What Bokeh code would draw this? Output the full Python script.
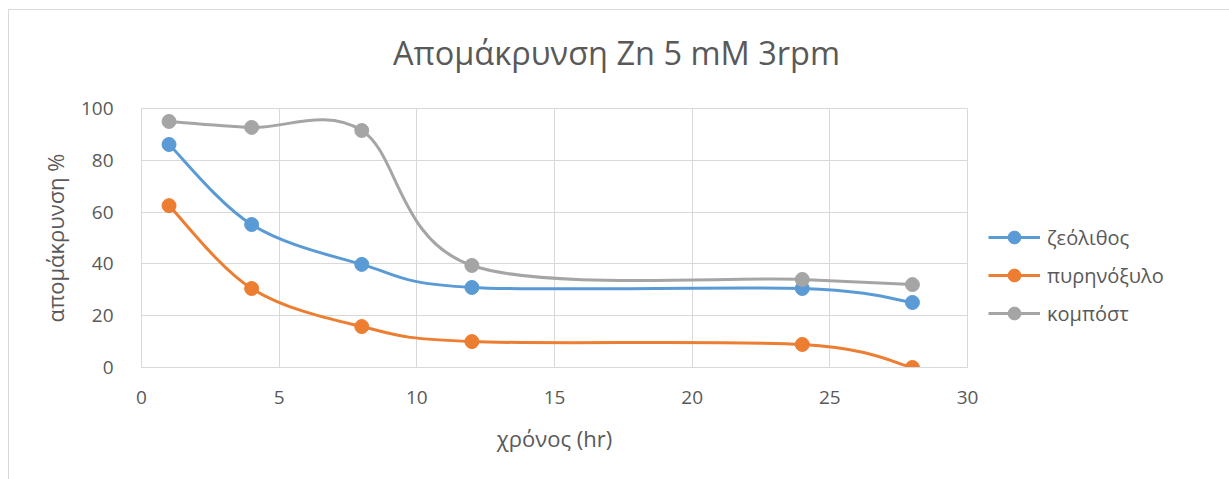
from bokeh.plotting import figure
from bokeh.layouts import column
from bokeh.models import Legend, LegendItem, FixedTicker, ColumnDataSource, Div
from bokeh.embed import file_html
from bokeh.resources import INLINE

# Removal of Zn (5 mM, 3 rpm) over time for three sorbents
hours = [1, 4, 8, 12, 24, 28]
zeolite = [86.1, 55.2, 39.8, 30.9, 30.5, 25.1]
olive_wood = [62.5, 30.5, 15.8, 10.0, 8.9, 0.0]
compost = [95.0, 92.7, 91.5, 39.4, 34.0, 32.0]

series_names = ["ζεόλιθος", "πυρηνόξυλο", "κομπόστ"]
series_values = [zeolite, olive_wood, compost]
colors = ["#5B9BD5", "#ED7D31", "#A5A5A5"]

x_ticks = [0, 5, 10, 15, 20, 25, 30]
y_ticks = [0, 20, 40, 60, 80, 100]

chart_title = "Απομάκρυνση Zn 5 mM 3rpm"

FONT = "Open Sans"
TEXT = "#595959"
GRID = "#D9D9D9"


def smooth_segments(xs, ys):
    """Cubic Bezier pieces (Catmull-Rom style) through the given points."""
    n = len(xs)
    seg = {k: [] for k in ("x0", "y0", "x1", "y1", "cx0", "cy0", "cx1", "cy1")}
    for i in range(n - 1):
        xp, yp = (xs[i - 1], ys[i - 1]) if i > 0 else (xs[i], ys[i])
        xn, yn = (xs[i + 2], ys[i + 2]) if i + 2 < n else (xs[i + 1], ys[i + 1])
        seg["x0"].append(xs[i]); seg["y0"].append(ys[i])
        seg["x1"].append(xs[i + 1]); seg["y1"].append(ys[i + 1])
        seg["cx0"].append(xs[i] + (xs[i + 1] - xp) / 6)
        seg["cy0"].append(ys[i] + (ys[i + 1] - yp) / 6)
        seg["cx1"].append(xs[i + 1] - (xn - xs[i]) / 6)
        seg["cy1"].append(ys[i + 1] - (yn - ys[i]) / 6)
    return seg


# heading row above the plot
head = Div(
    text=(
        '<div style="width:1205px;box-sizing:border-box;padding-left:10px;'
        'padding-top:20px;text-align:center;font-family:\'Open Sans\';'
        'font-size:32.5px;line-height:45px;color:#595959;white-space:nowrap;">'
        + chart_title + '</div>'
    ),
    width=1205, height=68, margin=0,
)

p = figure(frame_width=826, frame_height=259, x_range=(0, 30), y_range=(0, 100),
           output_backend="svg", toolbar_location=None,
           min_border_left=132, min_border_right=247,
           min_border_top=30, min_border_bottom=123)
p.margin = 0

p.outline_line_color = GRID
p.background_fill_color = "white"
p.border_fill_color = "white"

for ax in (p.xaxis[0], p.yaxis[0]):
    ax.axis_line_color = GRID
    ax.major_tick_line_color = None
    ax.minor_tick_line_color = None
    ax.major_label_text_font = FONT
    ax.major_label_text_font_size = "19px"
    ax.major_label_text_color = TEXT
    ax.axis_label_text_font = FONT
    ax.axis_label_text_font_size = "22px"
    ax.axis_label_text_font_style = "normal"
    ax.axis_label_text_color = TEXT

p.xaxis.ticker = FixedTicker(ticks=x_ticks)
p.yaxis.ticker = FixedTicker(ticks=y_ticks)
p.xaxis.axis_label = "χρόνος (hr)"
p.yaxis.axis_label = "απομάκρυνση %"
p.xaxis.major_label_standoff = 17
p.yaxis.major_label_standoff = 22
p.xaxis.axis_label_standoff = 16
p.yaxis.axis_label_standoff = 8

p.xgrid.ticker = FixedTicker(ticks=x_ticks)
p.ygrid.ticker = FixedTicker(ticks=y_ticks)
p.grid.grid_line_color = GRID
p.grid.grid_line_width = 1

items = []
for name, vals, col in zip(series_names, series_values, colors):
    curve = p.bezier(source=ColumnDataSource(smooth_segments(hours, vals)),
                     x0="x0", y0="y0", x1="x1", y1="y1",
                     cx0="cx0", cy0="cy0", cx1="cx1", cy1="cy1",
                     line_color=col, line_width=3)
    pts = p.scatter(hours, vals, size=14, marker="circle",
                    fill_color=col, line_color=col)
    items.append(LegendItem(label=name, renderers=[curve, pts]))

legend = Legend(items=items, location=(21, 38),
                label_text_font=FONT, label_text_font_size="20px",
                label_text_color=TEXT, glyph_width=52, glyph_height=32,
                label_height=20, label_standoff=7, spacing=6,
                padding=0, margin=0, border_line_color=None,
                background_fill_alpha=0)
p.add_layout(legend, "right")

# chart area with a light border
chart = column(head, p, spacing=0, margin=(9, 0, 0, 8),
               styles={"border": "1px solid #D9D9D9", "background": "white"})

open("out.html", "w").write(file_html(chart, INLINE))
